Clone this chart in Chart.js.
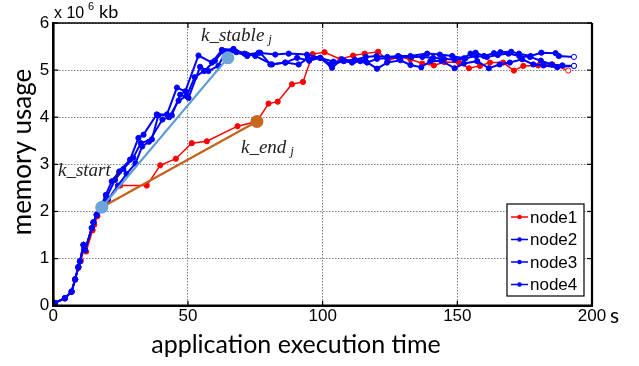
<!DOCTYPE html>
<html>
<head>
<meta charset="utf-8">
<script src="https://cdn.jsdelivr.net/npm/chart.js@4.4.1/dist/chart.umd.min.js"></script>
<style>
  body { margin: 0; background: #fff; }
</style>
</head>
<body>
<canvas id="c" width="639" height="366"></canvas>
<script>
// time (s) and memory (x10^6 kb) for each node
var t1 = [0.6, 4.3, 6.8, 8.1, 9.3, 10.2, 11.5, 12.2, 14.6, 15.2, 16.4, 18.5, 24.8, 34.7, 39.7, 45.5, 51.4, 57, 68.4, 75.6, 79.9, 83.3, 88.6, 92.7, 96.3, 100.7, 106.6, 111.3, 115.6, 120.6, 124.2, 128.6, 132.6, 137, 141.3, 145.2, 150.6, 154.3, 158.4, 162.1, 167, 171, 174.5, 180, 185.3, 191.2];
var m1 = [0.06, 0.15, 0.29, 0.55, 0.80, 0.95, 1.22, 1.15, 1.60, 1.72, 1.90, 2.12, 2.55, 2.55, 2.98, 3.12, 3.45, 3.49, 3.81, 3.91, 4.29, 4.33, 4.70, 4.75, 5.34, 5.38, 5.23, 5.31, 5.35, 5.39, 5.21, 5.28, 5.23, 5.14, 5.10, 5.17, 5.16, 5.04, 5.09, 5.16, 5.16, 4.99, 5.09, 5.10, 5.12, 4.99];

var t2 = [0.6, 4.3, 6.8, 8.1, 9.3, 9.9, 11.2, 11.8, 14.3, 14.9, 16.1, 17.4, 19.5, 21.7, 24.5, 28.5, 31.6, 33.5, 38.4, 42.2, 45.9, 49, 53.9, 58.9, 62.6, 66.9, 71.9, 76.2, 82.4, 87.4, 94.2, 99.2, 104, 108, 112, 116, 120, 124, 128, 132.6, 138.8, 143.5, 148.1, 152.4, 154.9, 156.8, 159.9, 163.6, 166, 170, 172.9, 177.2, 181.2, 186.5, 187.7, 193.3];
var m2 = [0.06, 0.16, 0.30, 0.56, 0.82, 0.94, 1.29, 1.18, 1.65, 1.77, 1.93, 2.07, 2.35, 2.64, 2.85, 3.10, 3.56, 3.63, 4.06, 4.06, 4.63, 4.55, 5.31, 5.16, 5.43, 5.45, 5.33, 5.37, 5.33, 5.35, 5.33, 5.26, 5.18, 5.20, 5.22, 5.28, 5.30, 5.28, 5.30, 5.30, 5.35, 5.33, 5.30, 5.25, 5.35, 5.37, 5.30, 5.36, 5.38, 5.39, 5.35, 5.30, 5.37, 5.36, 5.30, 5.28];

var t3 = [0.6, 4.3, 6.8, 8.1, 9.3, 9.9, 11.2, 11.8, 14.3, 14.9, 16.1, 17.4, 19.8, 22.9, 26, 29.7, 32.5, 36.6, 39, 44, 47.1, 50.2, 54.5, 57.6, 61.3, 64, 68, 72, 76.8, 80.6, 86.1, 91.1, 94.5, 99.1, 103.5, 107.2, 111.5, 115.9, 120.2, 123.9, 128.9, 132.6, 136.6, 140, 144, 149, 152.4, 157.4, 161.7, 165.7, 169.5, 174.1, 178.2, 182, 187.1, 193.3];
var m3 = [0.06, 0.16, 0.30, 0.56, 0.82, 0.94, 1.29, 1.18, 1.65, 1.77, 1.93, 2.07, 2.30, 2.67, 2.90, 3.14, 3.45, 3.53, 4.04, 4.04, 4.48, 4.41, 5.07, 4.98, 5.09, 5.40, 5.38, 5.30, 5.37, 5.12, 5.16, 5.12, 5.25, 5.26, 5.05, 5.23, 5.19, 5.19, 5.03, 5.16, 5.21, 5.11, 5.06, 5.19, 5.20, 5.04, 5.14, 5.19, 5.04, 5.12, 5.16, 5.23, 5.12, 5.10, 5.06, 5.09];

var t4 = [0.6, 4.3, 6.8, 8.1, 9.3, 9.9, 11.2, 11.8, 14.3, 14.9, 16.1, 17.4, 20.3, 24, 27.2, 30.5, 33, 35.5, 40.5, 43, 46.5, 49.5, 52.5, 56, 60, 63, 67, 71, 75, 81.2, 86.1, 90.5, 95, 99.1, 103, 107.8, 110.9, 114, 116.5, 120.2, 124, 128, 133, 137, 141, 145, 149, 153, 157, 161, 165, 169, 173, 177, 181, 185, 189, 193.3];
var m4 = [0.06, 0.16, 0.30, 0.56, 0.82, 0.94, 1.29, 1.18, 1.65, 1.77, 1.93, 2.07, 2.25, 2.55, 2.80, 3.02, 3.38, 3.48, 3.95, 4.00, 4.35, 4.45, 4.85, 4.98, 5.20, 5.40, 5.42, 5.35, 5.30, 5.12, 5.16, 5.26, 5.20, 5.26, 5.12, 5.19, 5.16, 5.19, 5.16, 5.24, 5.25, 5.28, 5.28, 5.28, 5.26, 5.24, 5.22, 5.25, 5.30, 5.28, 5.32, 5.35, 5.30, 5.28, 5.20, 5.12, 5.10, 5.09];

// the three marked points
var kStart = [18, 2.09];
var kStable = [64.8, 5.26];
var kEnd = [75.6, 3.91];

var xTicks = [0, 50, 100, 150, 200];
var yTicks = [0, 1, 2, 3, 4, 5, 6];
var names = ['node1', 'node2', 'node3', 'node4'];

function pts(t, m) {
  var out = [];
  for (var i = 0; i < t.length; i++) out.push({ x: t[i], y: m[i] });
  return out;
}

function nodeSet(label, t, m, color, width, order) {
  return {
    label: label,
    data: pts(t, m),
    borderColor: color,
    borderWidth: width,
    pointRadius: 2.6,
    pointBorderWidth: 1,
    pointBorderColor: color,
    pointBackgroundColor: function (ctx) {
      return ctx.dataIndex === t.length - 1 ? '#fff' : color;
    },
    tension: 0,
    order: order
  };
}

var sans = '"Liberation Sans", Arial, sans-serif';
var label = 'Lato, "Open Sans", sans-serif';
var serif = '"Liberation Serif", "DejaVu Serif", serif';

var decor = {
  id: 'decor',
  afterDatasetsDraw: function (chart) {
    var ctx = chart.ctx, a = chart.chartArea;
    var xs = chart.scales.x, ys = chart.scales.y;
    ctx.save();
    // frame
    ctx.strokeStyle = '#000';
    ctx.lineWidth = 1.5;
    ctx.beginPath(); ctx.moveTo(a.left, a.top); ctx.lineTo(a.right, a.top); ctx.stroke();
    ctx.lineWidth = 2.2;
    ctx.beginPath(); ctx.moveTo(a.right, a.top); ctx.lineTo(a.right, a.bottom); ctx.stroke();
    ctx.lineWidth = 2.6;
    ctx.beginPath(); ctx.moveTo(a.left, a.top - 1); ctx.lineTo(a.left, a.bottom); ctx.lineTo(a.right + 1, a.bottom); ctx.stroke();
    ctx.lineWidth = 1.2;
    xTicks.forEach(function (v) {
      var px = xs.getPixelForValue(v);
      ctx.beginPath(); ctx.moveTo(px, a.top); ctx.lineTo(px, a.top + 5); ctx.stroke();
      ctx.beginPath(); ctx.moveTo(px, a.bottom); ctx.lineTo(px, a.bottom - 5); ctx.stroke();
    });
    yTicks.forEach(function (v) {
      var py = ys.getPixelForValue(v);
      ctx.beginPath(); ctx.moveTo(a.right, py); ctx.lineTo(a.right - 5, py); ctx.stroke();
      ctx.beginPath(); ctx.moveTo(a.left, py); ctx.lineTo(a.left + 5, py); ctx.stroke();
    });

    // k labels
    ctx.fillStyle = '#222';
    ctx.textBaseline = 'alphabetic';
    function klabel(txt, x, y) {
      ctx.font = 'italic 19px ' + serif;
      ctx.fillText(txt, x, y);
      var w = ctx.measureText(txt).width;
      ctx.font = 'italic 13px ' + serif;
      ctx.fillText('j', x + w + 4, y + 2);
    }
    klabel('k_start', 58, 176);
    klabel('k_stable', 201, 41);
    klabel('k_end', 241, 153);

    // legend
    var lx = 507, ly = 204, lw = 77, lh = 92;
    ctx.fillStyle = '#fff';
    ctx.fillRect(lx, ly, lw, lh);
    ctx.strokeStyle = '#000';
    ctx.lineWidth = 1.2;
    ctx.strokeRect(lx, ly, lw, lh);
    var cols = ['#ff0000', '#0000ff', '#0000ff', '#0000ff'];
    ctx.font = '17px ' + sans;
    ctx.textBaseline = 'middle';
    names.forEach(function (n, i) {
      var cy = 217 + i * 22.5;
      ctx.strokeStyle = cols[i];
      ctx.lineWidth = 1.5;
      ctx.beginPath(); ctx.moveTo(511, cy); ctx.lineTo(528, cy); ctx.stroke();
      ctx.fillStyle = cols[i];
      ctx.beginPath(); ctx.arc(519.5, cy, 2.2, 0, Math.PI * 2); ctx.fill();
      ctx.fillStyle = '#000';
      ctx.fillText(n, 530, cy + 1);
    });

    // units and axis titles
    ctx.fillStyle = '#000';
    ctx.textBaseline = 'alphabetic';
    ctx.font = '16px ' + sans;
    ctx.fillText('x 10', 54, 18);
    ctx.font = '11px ' + sans;
    ctx.fillText('6', 88, 10);
    ctx.font = '18px ' + label;
    ctx.fillText('kb', 99, 18);
    ctx.font = '21px ' + label;
    ctx.fillText('s', 610, 323);

    ctx.font = '25px ' + label;
    ctx.textAlign = 'center';
    ctx.fillText('application execution time', 296, 353);
    ctx.save();
    ctx.translate(31, 152);
    ctx.rotate(-Math.PI / 2);
    ctx.font = '26px ' + label;
    ctx.fillText('memory usage', 0, 0);
    ctx.restore();
    ctx.restore();
  }
};

new Chart(document.getElementById('c'), {
  type: 'line',
  data: {
    datasets: [
      {
        label: 'kstable',
        data: [{ x: kStart[0], y: kStart[1] }, { x: kStable[0], y: kStable[1] }],
        borderColor: '#5b9bd5',
        borderWidth: 2.2,
        pointRadius: 6.5,
        pointBorderWidth: 0,
        pointBackgroundColor: '#6ea6d9',
        order: 0
      },
      {
        label: 'kend',
        data: [{ x: kStart[0], y: kStart[1] }, { x: kEnd[0], y: kEnd[1] }],
        borderColor: '#c5621a',
        borderWidth: 2.2,
        pointRadius: [0, 6.5],
        pointBorderWidth: 0,
        pointBackgroundColor: '#c8651f',
        order: 0.5
      },
      nodeSet(names[3], t4, m4, '#0000ff', 2, 1),
      nodeSet(names[2], t3, m3, '#0000ff', 2, 1),
      nodeSet(names[1], t2, m2, '#0000ff', 2, 1),
      nodeSet(names[0], t1, m1, '#ff0000', 1.5, 2)
    ]
  },
  options: {
    responsive: false,
    animation: false,
    layout: { padding: { top: 23, right: 47, left: 0, bottom: 0 } },
    scales: {
      x: {
        type: 'linear', min: 0, max: 200,
        afterBuildTicks: function (s) { s.ticks = xTicks.map(function (v) { return { value: v }; }); },
        afterFit: function (s) { s.height = 60.3; },
        ticks: { color: '#000', font: { family: sans, size: 17 }, padding: 0, maxRotation: 0 },
        grid: { color: 'rgba(0,0,0,0.5)', lineWidth: 1, drawTicks: false },
        border: { display: false, dash: [1.5, 1.5] }
      },
      y: {
        min: 0, max: 6,
        afterBuildTicks: function (s) { s.ticks = yTicks.map(function (v) { return { value: v }; }); },
        afterFit: function (s) { s.width = 53.3; },
        ticks: { color: '#000', font: { family: sans, size: 17 }, padding: 4 },
        grid: { color: 'rgba(0,0,0,0.5)', lineWidth: 1, drawTicks: false },
        border: { display: false, dash: [1.5, 1.5] }
      }
    },
    plugins: { legend: { display: false }, tooltip: { enabled: false } }
  },
  plugins: [decor]
});
</script>
</body>
</html>
